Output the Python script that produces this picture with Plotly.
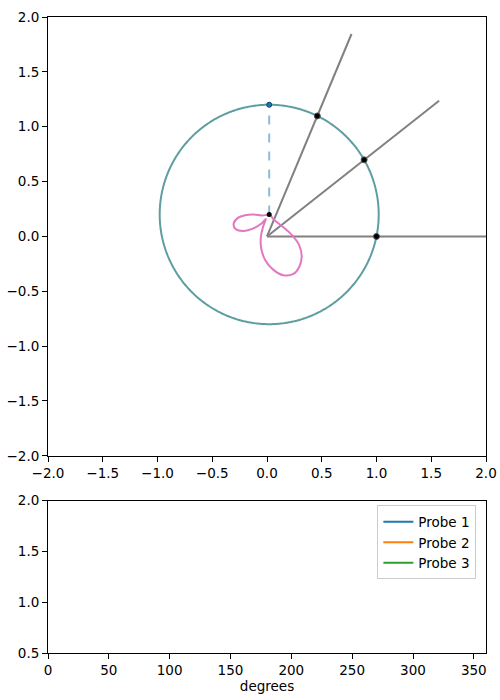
import numpy as np
import plotly.graph_objects as go

# ---- data ----
circle_center = [0.02, 0.2]
circle_radius = 1.0
ray_angles_deg = [0, 38.2, 67.3]
ray_length = 2.0

curve_x = [0.026, -0.047, -0.123, -0.199, -0.266, -0.305, -0.284, -0.214, -0.123, -0.047, -0.011,
           -0.035, -0.056, -0.053, -0.017, 0.059, 0.150, 0.241, 0.296, 0.317, 0.293, 0.226, 0.135, 0.059, 0.026]
curve_y = [0.196, 0.190, 0.199, 0.193, 0.169, 0.114, 0.065, 0.050, 0.074, 0.120, 0.159,
           0.090, -0.002, -0.108, -0.214, -0.305, -0.354, -0.342, -0.274, -0.184, -0.077, 0.014, 0.096, 0.156, 0.196]

probe_names = ["Probe 1", "Probe 2", "Probe 3"]
probe_colors = ["#1f77b4", "#ff7f0e", "#2ca02c"]

xticks_top = [-2.0, -1.5, -1.0, -0.5, 0.0, 0.5, 1.0, 1.5, 2.0]
xticks_bottom = [0, 50, 100, 150, 200, 250, 300, 350]
yticks_bottom = [0.5, 1.0, 1.5, 2.0]

# ---- figure ----
fig = go.Figure()

cx, cy = circle_center
# rays
for a in ray_angles_deg:
    t = np.deg2rad(a)
    fig.add_trace(go.Scatter(x=[0, ray_length * np.cos(t)], y=[0, ray_length * np.sin(t)],
                             mode="lines", line=dict(color="#808080", width=2),
                             showlegend=False, hoverinfo="skip", xaxis="x", yaxis="y"))

# circle
th = np.linspace(0, 2 * np.pi, 721)
fig.add_trace(go.Scatter(x=cx + circle_radius * np.cos(th), y=cy + circle_radius * np.sin(th),
                         mode="lines", line=dict(color="#5f9ea0", width=2, simplify=False),
                         showlegend=False, hoverinfo="skip", xaxis="x", yaxis="y"))

# dashed radius
fig.add_trace(go.Scatter(x=[cx, cx], y=[cy, cy + circle_radius], mode="lines",
                         line=dict(color="rgba(31,119,180,0.5)", width=2, dash="dash"),
                         showlegend=False, hoverinfo="skip", xaxis="x", yaxis="y"))

# pink curve
fig.add_trace(go.Scatter(x=curve_x, y=curve_y, mode="lines",
                         line=dict(color="#e377c2", width=2, shape="spline", smoothing=1.0, simplify=False),
                         showlegend=False, hoverinfo="skip", xaxis="x", yaxis="y"))

# intersection points
ix, iy = [], []
for a in ray_angles_deg:
    t = np.deg2rad(a)
    d = np.array([np.cos(t), np.sin(t)])
    c = np.array(circle_center)
    dc = d @ c
    s = dc + np.sqrt(dc ** 2 - c @ c + circle_radius ** 2)
    ix.append(s * d[0]); iy.append(s * d[1])
fig.add_trace(go.Scatter(x=ix, y=iy, mode="markers",
                         marker=dict(color="black", size=6, line=dict(color="#555555", width=1)),
                         showlegend=False, hoverinfo="skip", xaxis="x", yaxis="y"))

# center and top dots
fig.add_trace(go.Scatter(x=[cx], y=[cy], mode="markers",
                         marker=dict(color="black", size=5),
                         showlegend=False, hoverinfo="skip", xaxis="x", yaxis="y"))
fig.add_trace(go.Scatter(x=[cx], y=[cy + circle_radius], mode="markers",
                         marker=dict(color="#1f77b4", size=5, line=dict(color="#0b3d6b", width=1)),
                         showlegend=False, hoverinfo="skip", xaxis="x", yaxis="y"))

# probes (empty)
for name, col in zip(probe_names, probe_colors):
    fig.add_trace(go.Scatter(x=[None], y=[None], mode="lines", name=name,
                             line=dict(color=col, width=2), xaxis="x2", yaxis="y2"))

axis_common = dict(showline=True, linecolor="black", linewidth=1, mirror=True,
                   ticks="outside", ticklen=5, tickwidth=1, tickcolor="black",
                   showgrid=False, zeroline=False, automargin=False,
                   tickfont=dict(family="DejaVu Sans", size=13.5, color="black"))

fig.update_layout(
    width=500, height=700,
    margin=dict(l=47.5, r=13.5, t=16.5, b=46.5, autoexpand=False),
    paper_bgcolor="white", plot_bgcolor="white",
    font=dict(family="DejaVu Sans", size=13.5, color="black"),
    xaxis=dict(domain=[0, 1], range=[-2, 2], tickvals=xticks_top, tickformat=".1f",
               anchor="y", **axis_common),
    yaxis=dict(domain=[0.310, 1], range=[-2, 2], tickvals=xticks_top, tickformat=".1f",
               anchor="x", **axis_common),
    xaxis2=dict(domain=[0, 1], range=[0, 360], tickvals=xticks_bottom, anchor="y2",
                title=dict(text="degrees", standoff=4, font=dict(size=13.5)), **axis_common),
    yaxis2=dict(domain=[0, 0.2394], range=[0.5, 2.0], tickvals=yticks_bottom, tickformat=".1f",
                anchor="x2", **axis_common),
    legend=dict(x=0.978, y=0.232, xanchor="right", yanchor="top", xref="paper", yref="paper",
                bordercolor="#cccccc", borderwidth=1, bgcolor="rgba(255,255,255,0.8)",
                font=dict(size=13.5), tracegroupgap=0, itemwidth=30),
    showlegend=True,
)

fig.write_html("out.html", config={"displayModeBar": False},
               post_script="document.body.style.margin='0';document.body.style.overflow='hidden';")
